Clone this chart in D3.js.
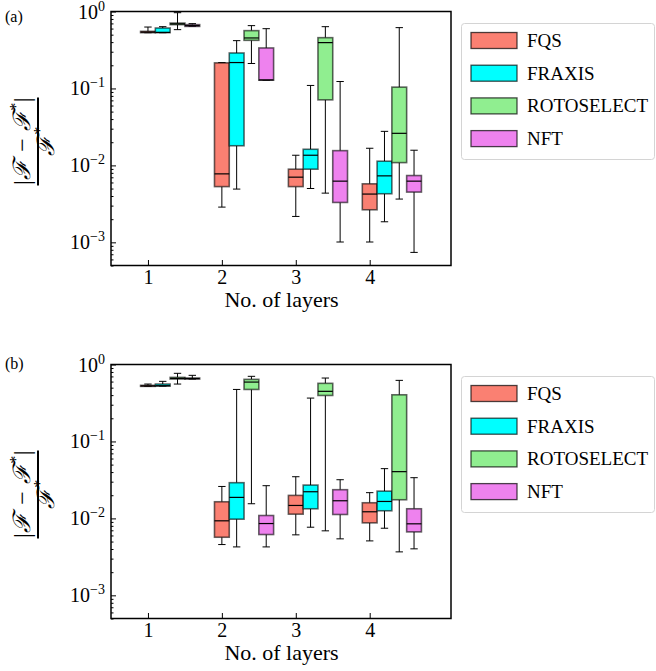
<!DOCTYPE html>
<html>
<head>
<meta charset="utf-8">
<script src="https://cdn.jsdelivr.net/npm/d3@7"></script>
<style>
  body { margin: 0; background: #fff; }
  text { font-family: "Liberation Serif", "Times New Roman", Times, serif; }
</style>
</head>
<body>
<svg id="chart" width="656" height="671"></svg>
<script>
// 資料：每個盒子 [whislo, q1, median, q3, whishi]
const layers = [1, 2, 3, 4];
const methods = ["FQS", "FRAXIS", "ROTOSELECT", "NFT"];
const colors = ["#fa8072", "#00ffff", "#90ee90", "#ee82ee"];
const yTicks = [1e-3, 1e-2, 1e-1, 1];
const yTickExp = ["−3", "−2", "−1", "0"];

// (a)
const fqsA = [
  [0.53, 0.531, 0.54, 0.552, 0.628],
  [0.00287, 0.0053, 0.00776, 0.215, 0.217],
  [0.00217, 0.0053, 0.00703, 0.00893, 0.01355],
  [0.00101, 0.00265, 0.00424, 0.00576, 0.0167]
];
const fraxisA = [
  [0.53, 0.531, 0.535, 0.61, 0.635],
  [0.00492, 0.018, 0.217, 0.289, 0.418],
  [0.00501, 0.00893, 0.01355, 0.0162, 0.1094],
  [0.00185, 0.00428, 0.00731, 0.01133, 0.0277]
];
const rotoA = [
  [0.581, 0.675, 0.69, 0.707, 0.965],
  [0.211, 0.422, 0.453, 0.564, 0.655],
  [0.00436, 0.0711, 0.394, 0.457, 0.635],
  [0.00365, 0.01087, 0.0261, 0.104, 0.617]
];
const nftA = [
  [0.64, 0.64, 0.655, 0.675, 0.695],
  [0.128, 0.128, 0.129, 0.336, 0.598],
  [0.00101, 0.0033, 0.00624, 0.01555, 0.123],
  [0.00074, 0.0045, 0.00624, 0.00738, 0.01574]
];

// (b)
const fqsB = [
  [0.52, 0.52, 0.527, 0.536, 0.557],
  [0.00457, 0.00569, 0.0093, 0.01645, 0.026],
  [0.00611, 0.01135, 0.01473, 0.0199, 0.0348],
  [0.0051, 0.00875, 0.01219, 0.01597, 0.0216]
];
const fraxisB = [
  [0.524, 0.524, 0.53, 0.557, 0.604],
  [0.00426, 0.00977, 0.01875, 0.0291, 0.474],
  [0.00768, 0.01334, 0.0222, 0.0271, 0.366],
  [0.00745, 0.01256, 0.0166, 0.0226, 0.0443]
];
const rotoB = [
  [0.557, 0.647, 0.66, 0.68, 0.768],
  [0.0155, 0.474, 0.591, 0.641, 0.702],
  [0.00689, 0.396, 0.448, 0.569, 0.667],
  [0.00367, 0.01747, 0.0405, 0.404, 0.622]
];
const nftB = [
  [0.647, 0.647, 0.657, 0.667, 0.723],
  [0.00426, 0.00617, 0.00857, 0.0109, 0.0266],
  [0.00542, 0.01124, 0.01695, 0.0236, 0.0318],
  [0.00402, 0.00668, 0.0085, 0.01334, 0.0338]
];

const svg = d3.select("#chart");
const serif = "Liberation Serif, Times New Roman, serif";

// 版面
const left = 111, right = 451, plotH = 254;
const offset = 0.2; // 每個方法的 x 偏移

const x = d3.scaleLinear().domain([0.5, 5.1]).range([left, right]);
const bw = x(offset) - x(0);

function drawPanel(top, label, labelY, series) {
  const g = svg.append("g");
  const y = d3.scaleLog().domain([5e-4, 1]).range([top + plotH, top]);

  // 盒鬚圖
  series.forEach((s, i) => {
    s.forEach((d, j) => {
      const cx = x(layers[j] + offset * i);
      const [lo, q1, med, q3, hi] = d;
      const b = g.append("g");
      b.append("line").attr("x1", cx).attr("x2", cx).attr("y1", y(lo)).attr("y2", y(q1))
        .attr("stroke", "#000").attr("stroke-width", 1);
      b.append("line").attr("x1", cx).attr("x2", cx).attr("y1", y(q3)).attr("y2", y(hi))
        .attr("stroke", "#000").attr("stroke-width", 1);
      [lo, hi].forEach((v) => {
        b.append("line").attr("x1", cx - bw / 4).attr("x2", cx + bw / 4)
          .attr("y1", y(v)).attr("y2", y(v)).attr("stroke", "#000").attr("stroke-width", 1);
      });
      b.append("rect")
        .attr("x", cx - bw / 2).attr("width", bw)
        .attr("y", y(q3)).attr("height", Math.max(y(q1) - y(q3), 0.5))
        .attr("fill", colors[i])
        .attr("stroke", "#000").attr("stroke-opacity", 0.6).attr("stroke-width", 1.6);
      b.append("line").attr("x1", cx - bw / 2).attr("x2", cx + bw / 2)
        .attr("y1", y(med)).attr("y2", y(med)).attr("stroke", "#000").attr("stroke-width", 1.2);
    });
  });

  // 座標軸
  const minor = [];
  for (let e = -4; e < 0; e++) {
    for (let k = 2; k <= 9; k++) {
      const v = k * Math.pow(10, e);
      if (v >= 5e-4 && v <= 1) minor.push(v);
    }
  }
  g.append("g").attr("transform", `translate(${left},0)`)
    .call(d3.axisLeft(y).tickValues(minor).tickSize(-2.5).tickFormat(""))
    .call((a) => a.select(".domain").remove());
  g.append("g").attr("transform", `translate(${left},0)`)
    .call(d3.axisLeft(y).tickValues(yTicks).tickSize(-5).tickFormat(""))
    .call((a) => a.select(".domain").remove());
  g.selectAll(".tick line").attr("stroke", "#000");

  yTicks.forEach((v, k) => {
    const t = g.append("text").attr("x", 105).attr("y", y(v) + 7)
      .attr("text-anchor", "end").attr("font-family", serif).attr("font-size", 20);
    t.append("tspan").text("10");
    t.append("tspan").attr("font-size", 14).attr("dy", -8).text(yTickExp[k]);
  });

  const xa = g.append("g").attr("transform", `translate(0,${top + plotH})`)
    .call(d3.axisBottom(x).tickValues(layers).tickSize(-5.5).tickPadding(4).tickFormat(d3.format("d")));
  xa.select(".domain").remove();
  xa.selectAll(".tick line").attr("stroke", "#000");
  xa.attr("font-family", serif);
  xa.selectAll("text").attr("font-size", 20).attr("font-family", serif).attr("fill", "#000");

  g.append("rect").attr("x", left).attr("y", top).attr("width", right - left).attr("height", plotH)
    .attr("fill", "none").attr("stroke", "#000").attr("stroke-width", 1.5);

  g.append("text").attr("x", (left + right) / 2 + 0.5).attr("y", top + plotH + 41)
    .attr("text-anchor", "middle").attr("font-family", serif).attr("font-size", 22).text("No. of layers");

  g.append("text").attr("x", 5).attr("y", labelY).attr("font-family", serif).attr("font-size", 16).text(label);

  // y 軸標題
  const yl = g.append("g").attr("transform", `translate(38,${top + 130}) rotate(-90)`);
  const num = yl.append("text").attr("x", 0).attr("y", -8).attr("text-anchor", "middle")
    .attr("font-family", serif).attr("font-style", "italic").attr("font-size", 24);
  num.append("tspan").text("|ℱ − ℱ");
  num.append("tspan").attr("font-size", 16).attr("dy", -9).text("*");
  num.append("tspan").attr("dy", 9).text("|");
  yl.append("line").attr("x1", -44).attr("x2", 44).attr("y1", 0).attr("y2", 0)
    .attr("stroke", "#000").attr("stroke-width", 2);
  const den = yl.append("text").attr("x", 0).attr("y", 16).attr("text-anchor", "middle")
    .attr("font-family", serif).attr("font-style", "italic").attr("font-size", 24);
  den.append("tspan").text("ℱ");
  den.append("tspan").attr("font-size", 16).attr("dy", -9).text("*");

  // 圖例
  const lg = g.append("g");
  lg.append("rect").attr("x", 461.5).attr("y", top + 12).attr("width", 193).attr("height", 136)
    .attr("rx", 3).attr("fill", "#fff").attr("stroke", "#d4d4d4").attr("stroke-width", 1);
  methods.forEach((m, i) => {
    const cy = top + 29 + i * 32.7;
    lg.append("rect").attr("x", 471).attr("y", cy - 8).attr("width", 46).attr("height", 16)
      .attr("fill", colors[i]).attr("stroke", "#000").attr("stroke-opacity", 0.7).attr("stroke-width", 1.3);
    lg.append("text").attr("x", 527).attr("y", cy + 6.5).attr("font-family", serif).attr("font-size", 19).text(m);
  });
}

drawPanel(11.5, "(a)", 21.5, [fqsA, fraxisA, rotoA, nftA]);
drawPanel(364.5, "(b)", 368.5, [fqsB, fraxisB, rotoB, nftB]);
</script>
</body>
</html>
